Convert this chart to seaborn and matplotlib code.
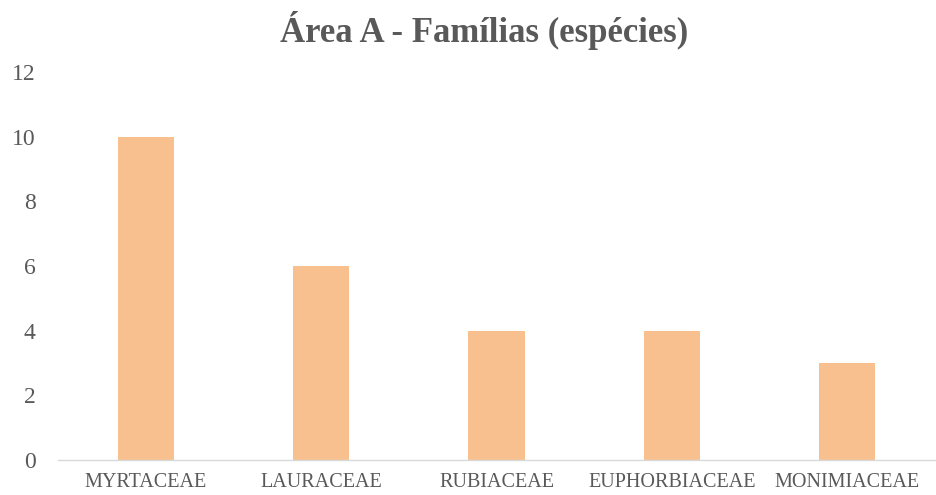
import matplotlib
matplotlib.use("Agg")
import matplotlib.pyplot as plt
import seaborn as sns
import pandas as pd

familias = ["MYRTACEAE", "LAURACEAE", "RUBIACEAE", "EUPHORBIACEAE", "MONIMIACEAE"]
especies = [10, 6, 4, 4, 3]
yticks = [0, 2, 4, 6, 8, 10, 12]

df = pd.DataFrame({"familia": familias, "especies": especies})

sns.set_theme(style="white")
plt.rcParams["font.family"] = ["Liberation Serif", "DejaVu Serif"]

fig = plt.figure(figsize=(9.36, 4.95), dpi=100)
ax = fig.add_axes([0.062, 0.0707, 0.937, 0.7838])

sns.barplot(data=df, x="familia", y="especies", color="#F8C08F", width=0.32,
            saturation=1, linewidth=0, ax=ax)

ax.set_ylim(0, 12)
ax.set_yticks(yticks)
ax.set_xlabel("")
ax.set_ylabel("")
text_color = "#595959"
ax.tick_params(axis="y", colors=text_color, labelsize=17, length=0, pad=16)
ax.tick_params(axis="x", colors=text_color, labelsize=14.5, length=0, pad=9)
for s in ["top", "right", "left"]:
    ax.spines[s].set_visible(False)
ax.spines["bottom"].set_color("#D9D9D9")
ax.spines["bottom"].set_linewidth(1.0)
ax.grid(False)

fig.suptitle("Área A - Famílias (espécies)", x=0.517, y=0.978, fontsize=25,
             fontweight="bold", color=text_color)

fig.savefig("out.png", dpi=100, facecolor="white")
